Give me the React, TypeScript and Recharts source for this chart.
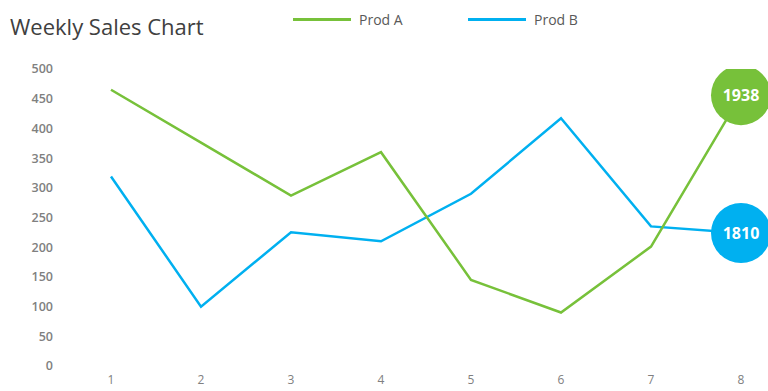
import { LineChart, Line, XAxis, YAxis } from "recharts";

const weeks = ["1", "2", "3", "4", "5", "6", "7", "8"];
const prodA = [465, 376, 287, 360, 145, 90, 201, 456];
const prodB = [319, 100, 225, 210, 290, 417, 235, 224];
const totals = [1938, 1810];
const yTicks = [0, 50, 100, 150, 200, 250, 300, 350, 400, 450, 500];

const series = [
  { key: "prodA", name: "Prod A", color: "#77C13A", total: totals[0] },
  { key: "prodB", name: "Prod B", color: "#00B0F0", total: totals[1] },
];

const data = weeks.map((w, i) => ({ week: w, prodA: prodA[i], prodB: prodB[i] }));

const FONT = "'Open Sans', 'Noto Sans', sans-serif";

// big bubble on the last point only, with the weekly total in it
function bubble(color: string, total: number) {
  return (props: any) => {
    const { cx, cy, index } = props;
    if (index !== weeks.length - 1) return <g key={`dot-${index}`} />;
    return (
      <g key={`dot-${index}`}>
        <circle cx={cx} cy={cy} r={30} fill={color} />
        <text
          x={cx}
          y={cy}
          dy={6}
          textAnchor="middle"
          fill="#fff"
          fontSize={16}
          fontWeight={700}
          fontFamily={FONT}
        >
          {total}
        </text>
      </g>
    );
  };
}

export default function App() {
  return (
    <div style={{ position: "absolute", left: 0, top: 0, width: 768, height: 391, background: "#fff" }}>
      <div
        style={{
          position: "absolute",
          left: 10,
          top: 11,
          fontFamily: FONT,
          fontSize: 22,
          color: "#404040",
        }}
      >
        Weekly Sales Chart
      </div>
      {/* legend */}
      <div style={{ position: "absolute", left: 293, top: 10, display: "flex", fontFamily: FONT, fontSize: 14, color: "#595959" }}>
        {series.map((s) => (
          <div key={s.key} style={{ display: "flex", alignItems: "center", width: 175 }}>
            <div style={{ width: 58, height: 3, background: s.color, marginRight: 8 }} />
            <span>{s.name}</span>
          </div>
        ))}
      </div>
      <LineChart width={768} height={391} data={data} margin={{ top: 69, right: 0, bottom: 0, left: 0 }}>
        <XAxis
          dataKey="week"
          axisLine={false}
          tickLine={false}
          tickSize={0}
          tickMargin={9}
          height={25}
          padding={{ left: 51, right: 27 }}
          tick={{ fill: "#808080", fontSize: 12, fontFamily: FONT }}
        />
        <YAxis
          domain={[0, 500]}
          ticks={yTicks}
          allowDataOverflow
          axisLine={false}
          tickLine={false}
          tickSize={0}
          tickMargin={7}
          width={60}
          tick={{ fill: "#808080", fontSize: 12.5, fontFamily: FONT, fontWeight: 600 }}
        />
        {[...series].reverse().map((s) => (
          <Line
            key={s.key}
            type="linear"
            dataKey={s.key}
            name={s.name}
            stroke={s.color}
            strokeWidth={2.5}
            dot={bubble(s.color, s.total)}
            activeDot={false}
            isAnimationActive={false}
          />
        ))}
      </LineChart>
    </div>
  );
}
